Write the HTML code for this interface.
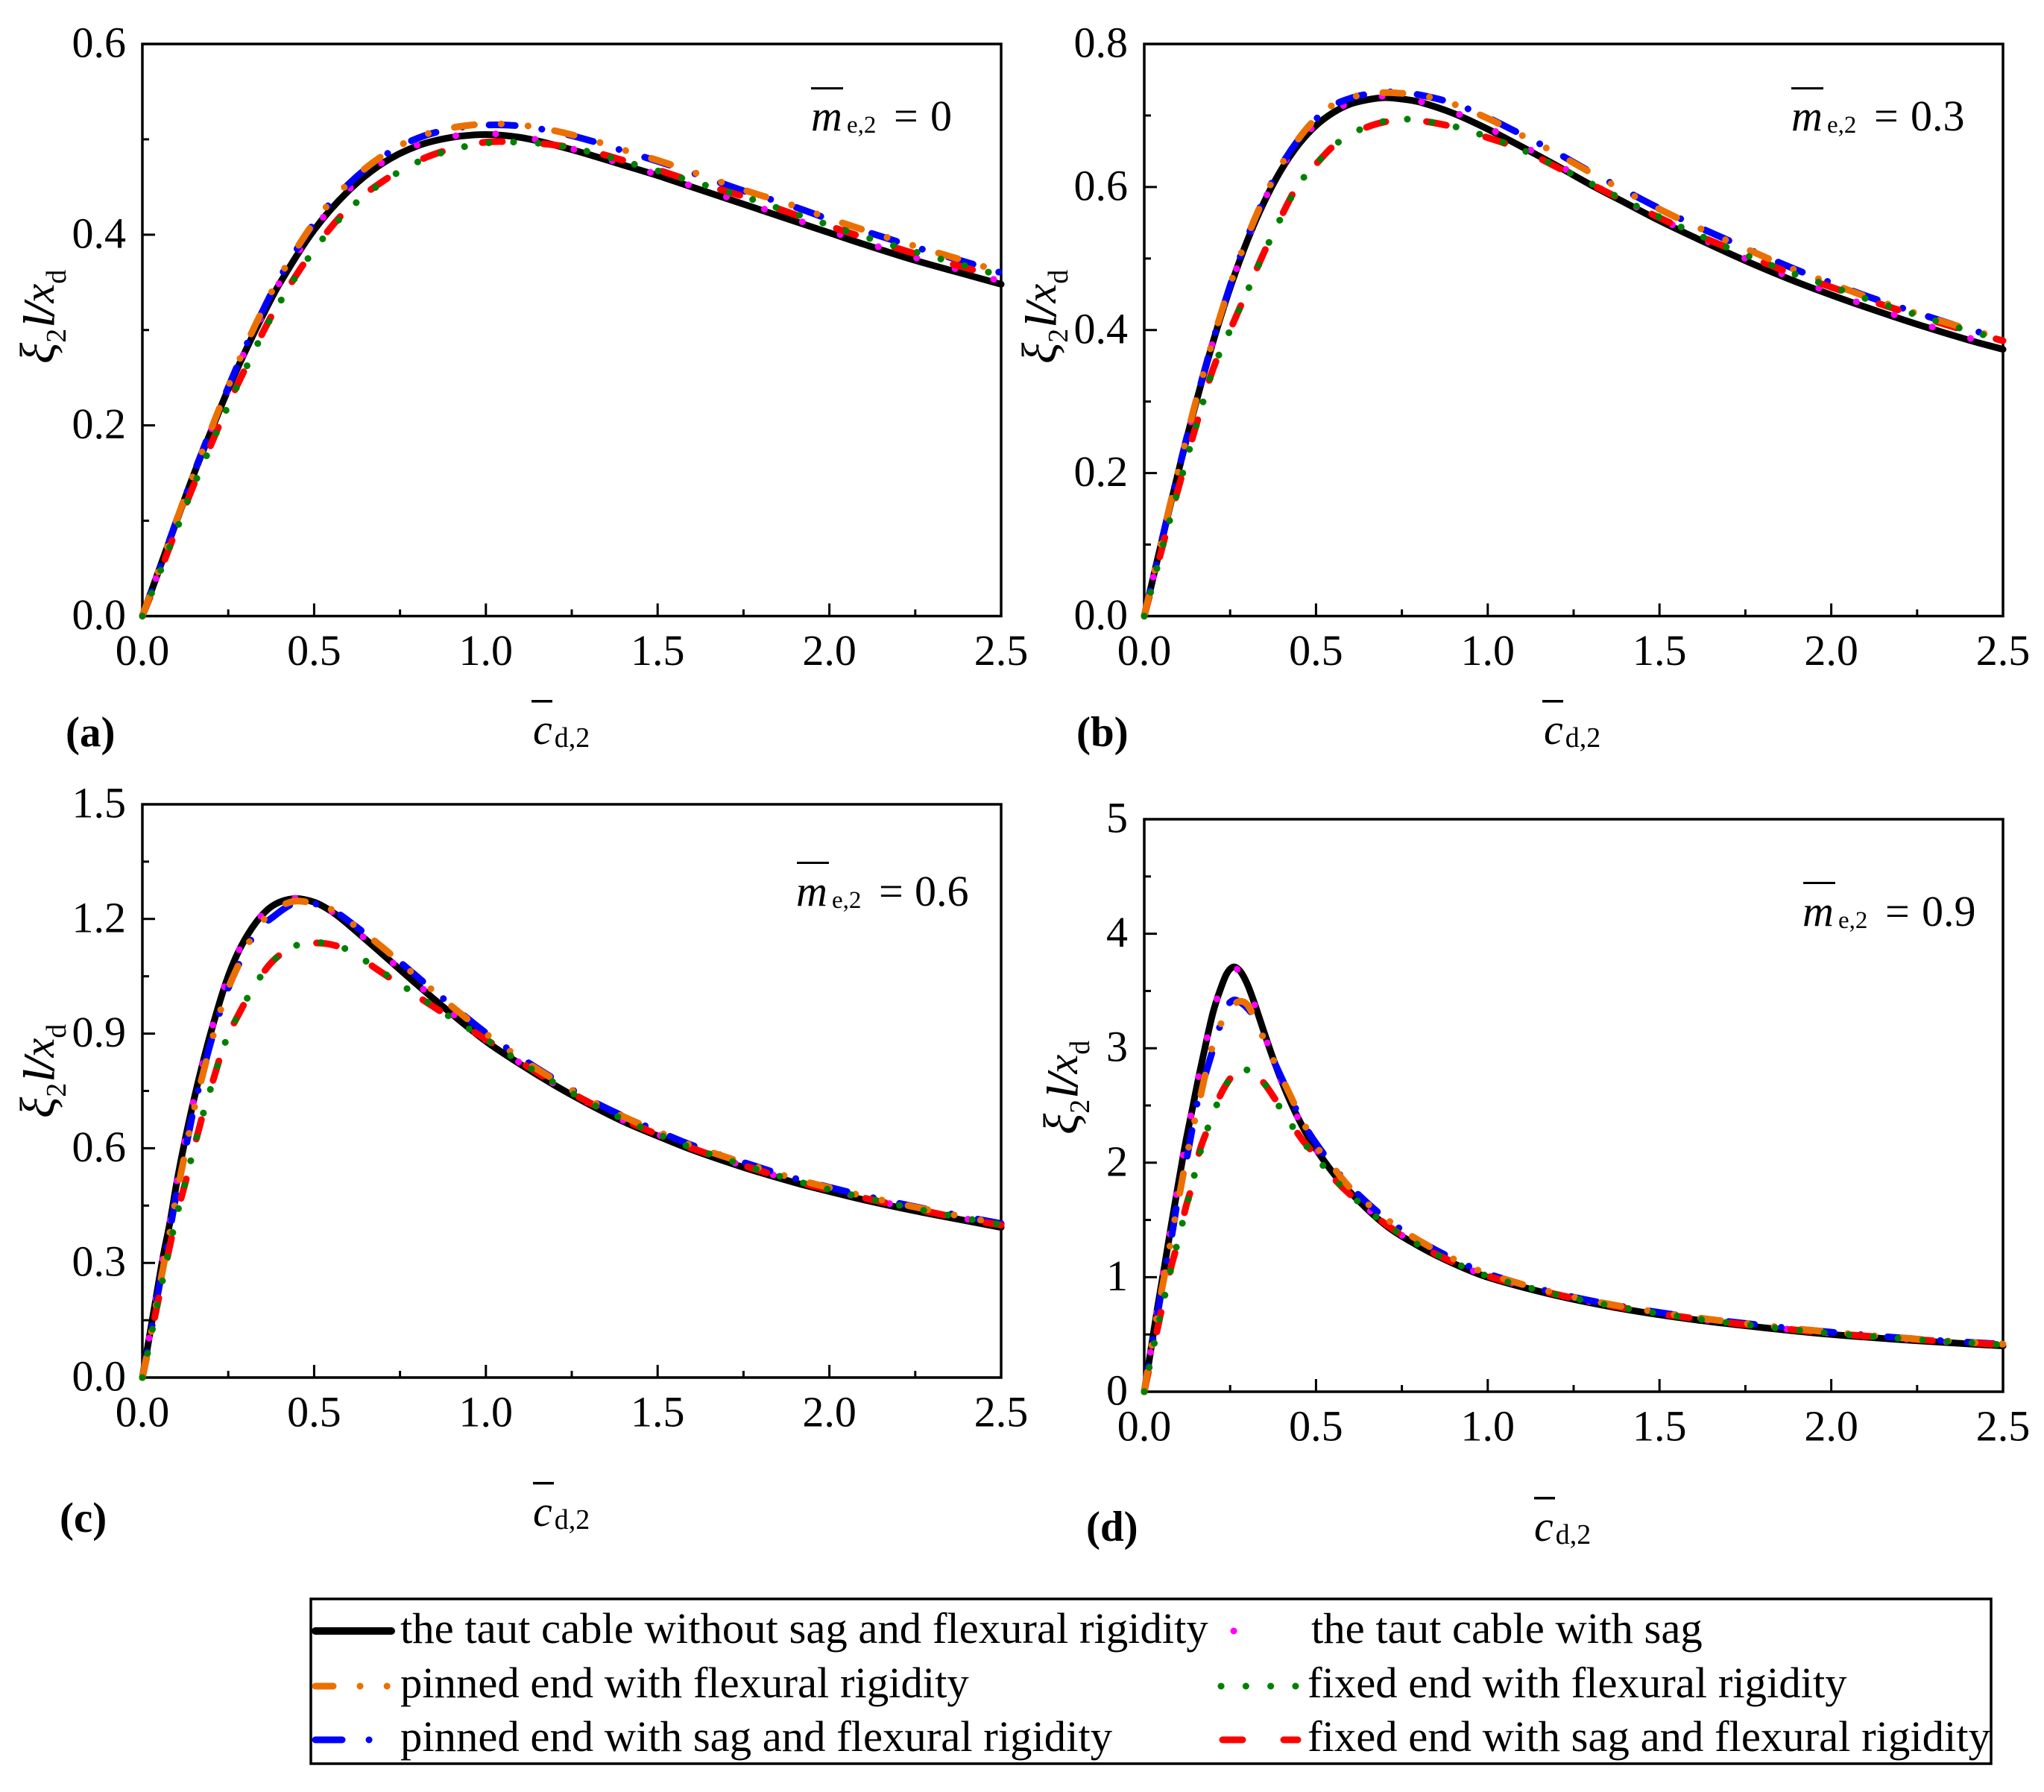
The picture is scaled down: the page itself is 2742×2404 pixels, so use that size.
<!DOCTYPE html>
<html lang="en">
<head>
<meta charset="utf-8">
<title>Damping ratio curves</title>
<style>
html,body{margin:0;padding:0;background:#fff;}
svg{display:block;}
text{font-family:"Liberation Serif","Times New Roman",serif;fill:#000;}
.tick{font-size:58px;}
.it{font-style:italic;}
.sub{font-size:38px;}
.msub{font-size:33px;}
.xi{font-size:66px;font-style:italic;}
.slash{font-style:italic;stroke:#000;stroke-width:1;}
.pl{font-size:57px;font-weight:bold;}
.leg{font-size:58.7px;}
</style>
</head>
<body>
<svg id="fig" xmlns="http://www.w3.org/2000/svg" width="2742" height="2404" viewBox="0 0 2742 2404">
<rect x="0" y="0" width="2742" height="2404" fill="#fff"/>

<g id="panel-a">
  <text transform="translate(72,488) rotate(-90)" font-size="58"><tspan class="xi">ξ</tspan><tspan class="sub" dy="16">2</tspan><tspan class="slash" dy="-16" dx="2">l/</tspan><tspan class="it">x</tspan><tspan class="sub" dy="16">d</tspan></text>
  <text x="715" y="998" font-size="58"><tspan class="it">c</tspan><tspan class="sub" dy="4" dx="3">d,2</tspan></text>
  <rect x="713" y="939" width="28" height="3.5" fill="#000"/>
  <text class="pl" x="88" y="1001">(a)</text>
  <rect x="1088" y="117" width="43" height="3" fill="#000"/>
  <text font-size="58" y="175"><tspan class="it" x="1088">m</tspan><tspan class="msub" x="1136" dy="3">e,2</tspan><tspan x="1199" dy="-3">=</tspan><tspan x="1248">0</tspan></text>
</g>

<g id="panel-b">
  <text transform="translate(1416,488) rotate(-90)" font-size="58"><tspan class="xi">ξ</tspan><tspan class="sub" dy="16">2</tspan><tspan class="slash" dy="-16" dx="2">l/</tspan><tspan class="it">x</tspan><tspan class="sub" dy="16">d</tspan></text>
  <text x="2071" y="998" font-size="58"><tspan class="it">c</tspan><tspan class="sub" dy="4" dx="3">d,2</tspan></text>
  <rect x="2069" y="939" width="28" height="3.5" fill="#000"/>
  <text class="pl" x="1444" y="1001">(b)</text>
  <rect x="2403" y="117" width="43" height="3" fill="#000"/>
  <text font-size="58" y="175"><tspan class="it" x="2403">m</tspan><tspan class="msub" x="2451" dy="3">e,2</tspan><tspan x="2514" dy="-3">=</tspan><tspan x="2563">0.3</tspan></text>
</g>

<g id="panel-c">
  <text transform="translate(72,1500) rotate(-90)" font-size="58"><tspan class="xi">ξ</tspan><tspan class="sub" dy="16">2</tspan><tspan class="slash" dy="-16" dx="2">l/</tspan><tspan class="it">x</tspan><tspan class="sub" dy="16">d</tspan></text>
  <text x="715" y="2047" font-size="58"><tspan class="it">c</tspan><tspan class="sub" dy="4" dx="3">d,2</tspan></text>
  <rect x="715" y="1988" width="28" height="3.5" fill="#000"/>
  <text class="pl" x="80" y="2055">(c)</text>
  <rect x="1069" y="1156" width="43" height="3" fill="#000"/>
  <text font-size="58" y="1215"><tspan class="it" x="1068">m</tspan><tspan class="msub" x="1116" dy="3">e,2</tspan><tspan x="1179" dy="-3">=</tspan><tspan x="1227">0.6</tspan></text>
</g>

<g id="panel-d">
  <text transform="translate(1445,1522) rotate(-90)" font-size="58"><tspan class="xi">ξ</tspan><tspan class="sub" dy="16">2</tspan><tspan class="slash" dy="-16" dx="2">l/</tspan><tspan class="it">x</tspan><tspan class="sub" dy="16">d</tspan></text>
  <text x="2058" y="2067" font-size="58"><tspan class="it">c</tspan><tspan class="sub" dy="4" dx="3">d,2</tspan></text>
  <rect x="2058" y="2008" width="28" height="3.5" fill="#000"/>
  <text class="pl" x="1457" y="2067">(d)</text>
  <rect x="2419" y="1183" width="43" height="3" fill="#000"/>
  <text font-size="58" y="1242"><tspan class="it" x="2418">m</tspan><tspan class="msub" x="2466" dy="3">e,2</tspan><tspan x="2529" dy="-3">=</tspan><tspan x="2578">0.9</tspan></text>
</g>

<g id="legend">
  <rect x="417" y="2145" width="2254" height="221" fill="none" stroke="#000" stroke-width="3.5"/>
  <line x1="423" y1="2188" x2="525" y2="2188" stroke="#000" stroke-width="10" stroke-linecap="round"/>
  <text class="leg" x="537" y="2204">the taut cable without sag and flexural rigidity</text>
  <line x1="423" y1="2262" x2="520" y2="2262" stroke="#EC7000" stroke-width="9" stroke-linecap="round" stroke-dasharray="24 36 0.1 36 0.1 36"/>
  <text class="leg" x="537" y="2277">pinned end with flexural rigidity</text>
  <line x1="423" y1="2334" x2="496" y2="2334" stroke="#0000FF" stroke-width="9" stroke-linecap="round" stroke-dasharray="36 36 0.1 36"/>
  <text class="leg" x="537" y="2349">pinned end with sag and flexural rigidity</text>
  <line x1="1655" y1="2188" x2="1710" y2="2188" stroke="#FF00FF" stroke-width="9" stroke-linecap="round" stroke-dasharray="0.1 54.9"/>
  <text class="leg" x="1759" y="2204">the taut cable with sag</text>
  <line x1="1638" y1="2262" x2="1739" y2="2262" stroke="#008000" stroke-width="9" stroke-linecap="round" stroke-dasharray="0.1 33.2"/>
  <text class="leg" x="1754" y="2277">fixed end with flexural rigidity</text>
  <line x1="1640" y1="2334" x2="1741" y2="2334" stroke="#FF0000" stroke-width="9" stroke-linecap="round" stroke-dasharray="27 55"/>
  <text class="leg" x="1754" y="2349">fixed end with sag and flexural rigidity</text>
</g>
</svg>

<script>
// ---- shared x axis ----
const xMajorTicks = [0, 0.5, 1, 1.5, 2, 2.5];
const xTickLabels = ['0.0', '0.5', '1.0', '1.5', '2.0', '2.5'];
const xMinorTicks = [0.25, 0.75, 1.25, 1.75, 2.25];

// ---- panel a (me,2 = 0) ----
const aYTicks = [0, 0.2, 0.4, 0.6];
const aYTickLabels = ['0.0', '0.2', '0.4', '0.6'];
const aYMinor = [0.1, 0.3, 0.5];
const aX = [0,.05,.1,.15,.2,.25,.3,.35,.4,.5,.6,.7,.8,.9,1,1.1,1.2,1.3,1.4,1.5,1.6,1.75,1.9,2,2.1,2.25,2.4,2.5];
const aBlack = [0,.05,.1,.149,.194,.238,.278,.315,.349,.405,.446,.475,.493,.502,.505,.502,.494,.484,.473,.462,.45,.432,.414,.402,.39,.373,.358,.348];
const aMagenta = [0,.05,.1,.149,.195,.238,.279,.316,.35,.406,.447,.476,.494,.503,.506,.503,.495,.485,.474,.463,.451,.434,.416,.404,.392,.376,.361,.351];
const aOrange = [0,.05,.101,.15,.196,.241,.283,.321,.356,.413,.454,.483,.502,.512,.516,.515,.509,.5,.489,.478,.466,.447,.43,.417,.405,.388,.372,.361];
const aBlue = [0,.05,.101,.15,.196,.24,.282,.32,.355,.412,.453,.482,.501,.511,.515,.514,.508,.499,.488,.477,.465,.446,.429,.416,.404,.387,.371,.36];
const aRed = [0,.045,.092,.138,.18,.222,.26,.297,.33,.385,.428,.456,.477,.49,.497,.497,.494,.488,.478,.468,.456,.44,.421,.409,.397,.38,.365,.355];
const aGreen = [0,.045,.091,.137,.179,.221,.259,.296,.329,.384,.426,.455,.476,.489,.496,.497,.494,.487,.477,.467,.456,.44,.422,.41,.398,.382,.367,.357];

// ---- panel b (me,2 = 0.3) ----
const bYTicks = [0, 0.2, 0.4, 0.6, 0.8];
const bYTickLabels = ['0.0', '0.2', '0.4', '0.6', '0.8'];
const bYMinor = [0.1, 0.3, 0.5, 0.7];
const bX = [0,.03,.06,.1,.15,.2,.25,.3,.35,.4,.45,.5,.55,.6,.65,.7,.75,.8,.9,1,1.1,1.2,1.3,1.4,1.5,1.6,1.75,1.9,2,2.1,2.25,2.4,2.5];
const bBlack = [0,.062,.123,.203,.297,.383,.459,.525,.58,.625,.66,.686,.704,.716,.722,.725,.723,.719,.703,.681,.656,.63,.603,.578,.553,.53,.497,.467,.449,.432,.408,.386,.373];
const bMagenta = [0,.062,.124,.204,.298,.384,.46,.526,.582,.627,.662,.688,.706,.718,.724,.727,.725,.72,.705,.683,.658,.632,.605,.58,.556,.533,.5,.47,.452,.435,.411,.389,.377];
const bOrange = [0,.063,.125,.205,.3,.386,.463,.53,.586,.632,.668,.696,.715,.725,.73,.732,.731,.729,.716,.696,.672,.647,.62,.594,.569,.546,.514,.483,.465,.447,.423,.401,.388];
const bBlue = [0,.062,.124,.204,.299,.385,.462,.529,.585,.631,.667,.695,.714,.724,.73,.733,.732,.729,.717,.697,.673,.648,.621,.595,.57,.547,.515,.484,.466,.448,.424,.401,.389];
const bRed = [0,.055,.11,.18,.265,.345,.4,.455,.51,.56,.605,.632,.657,.672,.684,.691,.694,.693,.684,.669,.652,.628,.604,.58,.557,.535,.505,.476,.46,.443,.42,.398,.385];
const bGreen = [0,.054,.109,.179,.264,.344,.4,.454,.509,.559,.604,.632,.657,.673,.685,.692,.695,.693,.685,.67,.652,.629,.605,.581,.558,.536,.505,.477,.461,.444,.421,.399,.386];

// ---- panel c (me,2 = 0.6) ----
const cYTicks = [0, 0.3, 0.6, 0.9, 1.2, 1.5];
const cYTickLabels = ['0.0', '0.3', '0.6', '0.9', '1.2', '1.5'];
const cYMinor = [0.15, 0.45, 0.75, 1.05, 1.35];
const cX = [0,.02,.04,.06,.08,.1,.125,.15,.175,.2,.24,.28,.33,.38,.44,.5,.55,.6,.7,.8,.9,1,1.1,1.2,1.3,1.4,1.5,1.6,1.75,1.9,2,2.1,2.25,2.4,2.5];
const cBlack = [0,.105,.21,.315,.405,.51,.625,.727,.82,.905,1.025,1.115,1.19,1.235,1.253,1.244,1.22,1.185,1.107,1.028,.952,.88,.82,.765,.715,.67,.632,.596,.55,.51,.487,.465,.436,.41,.393];
const cMagenta = [0,.105,.21,.316,.406,.51,.626,.728,.822,.906,1.026,1.116,1.19,1.236,1.254,1.245,1.22,1.186,1.108,1.03,.954,.883,.823,.768,.718,.673,.636,.6,.554,.514,.491,.47,.441,.415,.399];
const cOrange = [0,.09,.19,.285,.38,.48,.59,.7,.79,.875,.995,1.08,1.17,1.22,1.246,1.24,1.225,1.195,1.125,1.048,.972,.9,.836,.779,.727,.683,.644,.607,.562,.52,.497,.475,.446,.419,.402];
const cBlue = [0,.095,.195,.29,.385,.485,.595,.705,.795,.88,.995,1.08,1.165,1.205,1.24,1.24,1.225,1.195,1.125,1.049,.974,.902,.838,.781,.728,.684,.645,.608,.563,.521,.498,.476,.447,.42,.403];
const cRed = [0,.085,.175,.26,.345,.425,.51,.6,.685,.76,.875,.95,1.03,1.09,1.128,1.137,1.133,1.117,1.058,.998,.94,.885,.826,.77,.72,.675,.636,.6,.555,.514,.491,.47,.441,.414,.399];
const cGreen = [0,.085,.174,.26,.344,.424,.51,.6,.684,.76,.874,.95,1.03,1.09,1.128,1.138,1.134,1.118,1.06,1,.941,.885,.826,.771,.72,.676,.637,.601,.556,.515,.492,.471,.442,.416,.4];

// ---- panel d (me,2 = 0.9) ----
const dYTicks = [0, 1, 2, 3, 4, 5];
const dYTickLabels = ['0', '1', '2', '3', '4', '5'];
const dYMinor = [0.5, 1.5, 2.5, 3.5, 4.5];
const dX = [0,.02,.04,.06,.08,.1,.12,.14,.16,.18,.2,.22,.24,.26,.28,.3,.32,.35,.38,.42,.46,.5,.55,.6,.7,.8,.9,1,1.2,1.4,1.6,1.8,2,2.25,2.5];
const dBlack = [0,.38,.76,1.115,1.48,1.83,2.17,2.47,2.77,3.05,3.31,3.5,3.65,3.71,3.67,3.56,3.4,3.13,2.87,2.57,2.32,2.12,1.91,1.74,1.46,1.27,1.12,1,.84,.72,.63,.56,.5,.445,.4];
const dMagenta = [0,.38,.76,1.12,1.48,1.83,2.17,2.48,2.78,3.05,3.31,3.5,3.64,3.7,3.66,3.55,3.39,3.12,2.86,2.56,2.32,2.12,1.92,1.75,1.47,1.28,1.13,1.01,.85,.73,.64,.57,.51,.452,.41];
const dOrange = [0,.37,.72,1.03,1.36,1.68,2,2.28,2.53,2.8,3.03,3.19,3.32,3.38,3.41,3.38,3.27,3.07,2.87,2.62,2.37,2.15,1.96,1.78,1.52,1.32,1.16,1.03,.86,.74,.65,.58,.52,.46,.415];
const dBlue = [0,.36,.7,1.05,1.36,1.72,1.98,2.3,2.6,2.79,2.99,3.19,3.36,3.42,3.4,3.35,3.27,3.07,2.87,2.61,2.36,2.17,1.97,1.79,1.52,1.32,1.16,1.03,.86,.74,.65,.58,.52,.46,.415];
const dRed = [0,.29,.57,.85,1.11,1.33,1.6,1.81,2.09,2.26,2.41,2.58,2.69,2.77,2.8,2.81,2.78,2.69,2.56,2.38,2.2,2.06,1.87,1.72,1.47,1.28,1.13,1.01,.85,.73,.64,.57,.51,.455,.41];
const dGreen = [0,.29,.57,.84,1.1,1.34,1.58,1.82,2.06,2.26,2.42,2.57,2.69,2.77,2.8,2.81,2.78,2.69,2.55,2.37,2.19,2.05,1.87,1.72,1.47,1.28,1.13,1.01,.85,.73,.64,.57,.51,.455,.41];

const NS = 'http://www.w3.org/2000/svg';

function svgEl(tag, attrs) {
  const el = document.createElementNS(NS, tag);
  for (const k in attrs) el.setAttribute(k, attrs[k]);
  return el;
}

function makeX(frame) {
  return function (v) { return frame.left + (v / 2.5) * (frame.right - frame.left); };
}
function makeY(frame, yMax) {
  return function (v) { return frame.bottom - (v / yMax) * (frame.bottom - frame.top); };
}

// Smooth curve through samples: cubic Hermite with finite-difference slopes.
function curvePath(xs, ys, sx, sy) {
  const px = xs.map(sx);
  const py = ys.map(sy);
  const n = px.length;
  const slope = [];
  for (let i = 0; i < n; i++) {
    const a = Math.max(i - 1, 0);
    const b = Math.min(i + 1, n - 1);
    slope.push((py[b] - py[a]) / (px[b] - px[a]));
  }
  let d = 'M' + px[0].toFixed(2) + ',' + py[0].toFixed(2);
  for (let i = 0; i < n - 1; i++) {
    const h = (px[i + 1] - px[i]) / 3;
    d += 'C' + (px[i] + h).toFixed(2) + ',' + (py[i] + slope[i] * h).toFixed(2) +
         ' ' + (px[i + 1] - h).toFixed(2) + ',' + (py[i + 1] - slope[i + 1] * h).toFixed(2) +
         ' ' + px[i + 1].toFixed(2) + ',' + py[i + 1].toFixed(2);
  }
  return d;
}

function drawPanel(p) {
  const g = document.getElementById('panel-' + p.id);
  const f = p.frame;
  const sx = makeX(f);
  const sy = makeY(f, p.yMax);

  const box = svgEl('rect', {x: f.left, y: f.top, width: f.right - f.left, height: f.bottom - f.top, fill: 'none', stroke: '#000', 'stroke-width': 3.5});
  
  
  g.appendChild(box);

  xMajorTicks.forEach(function (v, i) {
    const t = svgEl('line', {x1: sx(v), x2: sx(v), y1: f.bottom, y2: f.bottom - 17, stroke: '#000', 'stroke-width': 3});
    
    
    g.appendChild(t);
    const lab = svgEl('text', {x: sx(v), y: f.bottom + 65.5, 'text-anchor': 'middle', 'class': 'tick'});
    lab.textContent = xTickLabels[i];
    
    
    g.appendChild(lab);
  });
  xMinorTicks.forEach(function (v) {
    const t = svgEl('line', {x1: sx(v), x2: sx(v), y1: f.bottom, y2: f.bottom - 9, stroke: '#000', 'stroke-width': 3});
    
    
    g.appendChild(t);
  });
  p.yTicks.forEach(function (v, i) {
    const t = svgEl('line', {x1: f.left, x2: f.left + 17, y1: sy(v), y2: sy(v), stroke: '#000', 'stroke-width': 3});
    
    
    g.appendChild(t);
    const lab = svgEl('text', {x: f.left - 22, y: sy(v) + 17.5, 'text-anchor': 'end', 'class': 'tick'});
    lab.textContent = p.yTickLabels[i];
    
    
    g.appendChild(lab);
  });
  p.yMinor.forEach(function (v) {
    const t = svgEl('line', {x1: f.left, x2: f.left + 9, y1: sy(v), y2: sy(v), stroke: '#000', 'stroke-width': 3});
    
    
    g.appendChild(t);
  });

  p.series.forEach(function (s) {
    const path = svgEl('path', {
      d: curvePath(p.xs, s.ys, sx, sy),
      fill: 'none',
      stroke: s.color,
      'stroke-width': s.width,
      'stroke-linecap': 'round',
      'stroke-linejoin': 'round'
    });
    if (s.dash) path.setAttribute('stroke-dasharray', s.dash);
    
    
    g.appendChild(path);
  });
}

function seriesFor(black, magenta, blue, red, orange, green) {
  return [
    {name: 'taut-cable', color: '#000000', width: 9, dash: '', ys: black},
    {name: 'taut-cable-sag', color: '#FF00FF', width: 9, dash: '0.1 53.5', ys: magenta},
    {name: 'pinned-sag-flexural', color: '#0000FF', width: 9, dash: '35 36 0.1 36', ys: blue},
    {name: 'fixed-sag-flexural', color: '#FF0000', width: 9, dash: '27 55', ys: red},
    {name: 'pinned-flexural', color: '#EC7000', width: 9, dash: '27 36 0.1 36 0.1 36', ys: orange},
    {name: 'fixed-flexural', color: '#008000', width: 9, dash: '0.1 33', ys: green}
  ];
}

drawPanel({id: 'a', frame: {left: 191, right: 1343, top: 59, bottom: 826.5}, yMax: 0.6, xs: aX, yTicks: aYTicks, yTickLabels: aYTickLabels, yMinor: aYMinor, series: seriesFor(aBlack, aMagenta, aBlue, aRed, aOrange, aGreen)});
drawPanel({id: 'b', frame: {left: 1535, right: 2687, top: 59, bottom: 826.5}, yMax: 0.8, xs: bX, yTicks: bYTicks, yTickLabels: bYTickLabels, yMinor: bYMinor, series: seriesFor(bBlack, bMagenta, bBlue, bRed, bOrange, bGreen)});
drawPanel({id: 'c', frame: {left: 191, right: 1343, top: 1079, bottom: 1848}, yMax: 1.5, xs: cX, yTicks: cYTicks, yTickLabels: cYTickLabels, yMinor: cYMinor, series: seriesFor(cBlack, cMagenta, cBlue, cRed, cOrange, cGreen)});
drawPanel({id: 'd', frame: {left: 1535, right: 2687, top: 1099, bottom: 1867}, yMax: 5, xs: dX, yTicks: dYTicks, yTickLabels: dYTickLabels, yMinor: dYMinor, series: seriesFor(dBlack, dMagenta, dBlue, dRed, dOrange, dGreen)});
</script>
</body>
</html>
